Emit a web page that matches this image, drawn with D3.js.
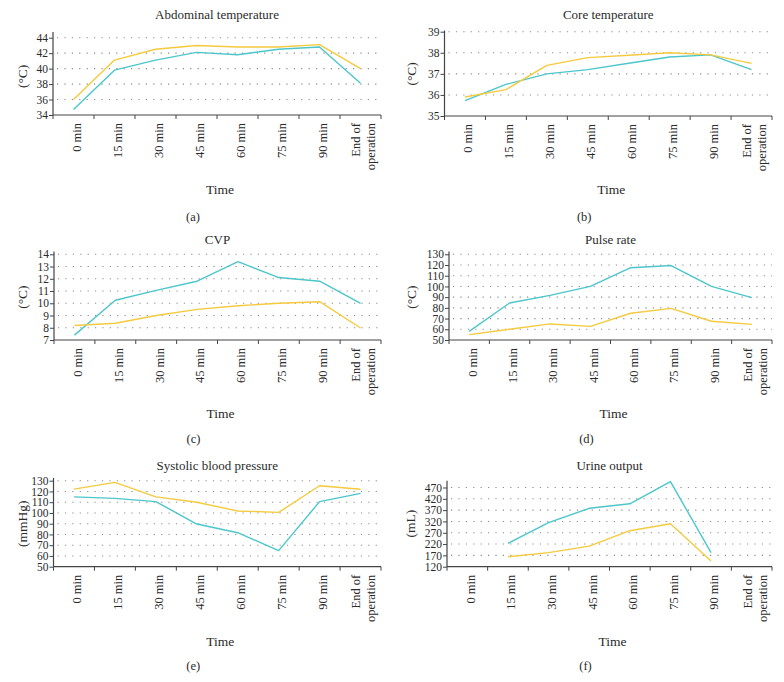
<!DOCTYPE html>
<html>
<head>
<meta charset="utf-8">
<script src="https://cdn.jsdelivr.net/npm/d3@7"></script>
<style>
  body { margin: 0; background: #fff; }
  svg { display: block; }
  text { font-family: "Liberation Serif", "DejaVu Serif", serif; fill: #2a2a2a; }
</style>
</head>
<body>
<svg id="chart" width="784" height="682"></svg>
<script>
// ---------- data ----------
const times = ["0 min", "15 min", "30 min", "45 min", "60 min", "75 min", "90 min", "End of operation"];

const abdominalCyan   = [34.7, 39.8, 41.1, 42.1, 41.8, 42.5, 42.8, 38.1];
const abdominalYellow = [36.0, 41.1, 42.5, 43.0, 42.8, 42.8, 43.1, 40.0];

const coreCyan   = [35.73, 36.5, 37.0, 37.2, 37.5, 37.8, 37.9, 37.2];
const coreYellow = [35.9, 36.25, 37.4, 37.77, 37.88, 38.0, 37.9, 37.5];

const cvpCyan   = [7.4, 10.25, 11.05, 11.8, 13.4, 12.1, 11.8, 10.0];
const cvpYellow = [8.18, 8.37, 9.0, 9.5, 9.8, 10.0, 10.13, 7.98];

const pulseCyan   = [58, 84.5, 91.6, 100, 117.5, 119.5, 100, 89.5];
const pulseYellow = [55, 60, 65, 62.7, 75, 79.5, 67.5, 64.6];

const sbpCyan   = [115, 113.6, 110.5, 89.7, 81.6, 65, 110.5, 118.2];
const sbpYellow = [122.2, 128.4, 115, 110, 101.8, 100.5, 125.3, 122];

const urineCyan   = [null, 223, 315, 378, 398, 496, 182, null];
const urineYellow = [null, 164, 182, 211, 279, 310, 145, null];

const abdominalTicks = [34, 36, 38, 40, 42, 44];
const coreTicks  = [35, 36, 37, 38, 39];
const cvpTicks   = [7, 8, 9, 10, 11, 12, 13, 14];
const pulseTicks = [50, 60, 70, 80, 90, 100, 110, 120, 130];
const sbpTicks   = [50, 60, 70, 80, 90, 100, 110, 120, 130];
const urineTicks = [120, 170, 220, 270, 320, 370, 420, 470];

const titles = ["Abdominal temperature", "Core temperature", "CVP", "Pulse rate", "Systolic blood pressure", "Urine output"];
const yTitles = ["(°C)", "(°C)", "(°C)", "(°C)", "(mmHg)", "(mL)"];
const captions = ["(a)", "(b)", "(c)", "(d)", "(e)", "(f)"];
const xTitle = "Time";

// ---------- layout ----------
const CYAN = "#4cc6cb";
const YELLOW = "#f5ca3e";

const panels = [
  { cyan: abdominalCyan, yellow: abdominalYellow, ticks: abdominalTicks, domain: [34, 44], x0: 53, x1: 381, bottom: 115, top: 37.7, axisTop: 32, titleY: 19, yTitleX: 22, timeY: 194, capY: 221 },
  { cyan: coreCyan, yellow: coreYellow, ticks: coreTicks, domain: [35, 39], x0: 444.5, x1: 772, bottom: 116, top: 31.7, axisTop: 30.5, titleY: 19, yTitleX: 411, timeY: 194, capY: 221 },
  { cyan: cvpCyan, yellow: cvpYellow, ticks: cvpTicks, domain: [7, 14], x0: 54, x1: 381, bottom: 340, top: 254.3, axisTop: 251.5, titleY: 244, yTitleX: 22, timeY: 418, capY: 443 },
  { cyan: pulseCyan, yellow: pulseYellow, ticks: pulseTicks, domain: [50, 130], x0: 449, x1: 772, bottom: 340, top: 254.3, axisTop: 251.5, titleY: 244, yTitleX: 411, timeY: 418, capY: 443 },
  { cyan: sbpCyan, yellow: sbpYellow, ticks: sbpTicks, domain: [50, 130], x0: 53.5, x1: 381, bottom: 566.7, top: 480.7, axisTop: 478, titleY: 470, yTitleX: 22, timeY: 646, capY: 670 },
  { cyan: urineCyan, yellow: urineYellow, ticks: urineTicks, domain: [120, 500], x0: 447, x1: 772, bottom: 566.7, top: 480.7, axisTop: 480.7, titleY: 470, yTitleX: 410, timeY: 646, capY: 670 }
];

const svg = d3.select("#chart");

panels.forEach((p, i) => {
  const g = svg.append("g");
  const x = d3.scaleBand().domain(times).range([p.x0, p.x1]).padding(0);
  const y = d3.scaleLinear().domain(p.domain).range([p.bottom, p.top]);
  const cx = (p.x0 + p.x1) / 2;

  // gridlines (dotted), skip bottom
  g.append("g").selectAll("line")
    .data(p.ticks.filter(t => t !== p.domain[0]))
    .join("line")
    .attr("x1", p.x0 + 4).attr("x2", p.x1)
    .attr("y1", d => y(d)).attr("y2", d => y(d))
    .attr("stroke", "#8a8a8a").attr("stroke-width", 1.1)
    .attr("stroke-dasharray", "1.2,6.2");

  // y axis
  const yAxis = g.append("g")
    .attr("transform", `translate(${p.x0},0)`)
    .call(d3.axisLeft(y).tickValues(p.ticks).tickSize(4).tickSizeOuter(0).tickFormat(d3.format("d")));
  yAxis.select(".domain").remove();
  yAxis.append("line").attr("x1", 0).attr("x2", 0).attr("y1", p.axisTop).attr("y2", p.bottom)
    .attr("stroke", "#444").attr("stroke-width", 1.2);
  yAxis.selectAll(".tick line").attr("stroke", "#444");
  yAxis.selectAll(".tick text").attr("x", -5).style("font-size", "11.5px")
    .style("font-family", "'Liberation Serif', serif").attr("fill", "#2a2a2a");

  // x axis
  const bounds = times.map(t => x(t)).concat([p.x1]);
  g.append("line").attr("x1", p.x0).attr("x2", p.x1).attr("y1", p.bottom).attr("y2", p.bottom)
    .attr("stroke", "#444").attr("stroke-width", 1.2);
  g.append("g").selectAll("line").data(bounds).join("line")
    .attr("x1", d => d).attr("x2", d => d)
    .attr("y1", p.bottom).attr("y2", p.bottom + 4)
    .attr("stroke", "#444").attr("stroke-width", 1);

  // x tick labels (rotated)
  times.forEach(t => {
    const lines = t === "End of operation" ? ["End of", "operation"] : [t];
    const bx = x(t) + x.bandwidth() / 2 + 3;
    lines.forEach((ln, k) => {
      const off = lines.length === 1 ? 0 : (k === 0 ? -7.5 : 7.5);
      g.append("text")
        .attr("transform", `translate(${bx + off},${p.bottom + 8}) rotate(-90)`)
        .attr("text-anchor", "end")
        .attr("dy", "0.35em")
        .style("font-size", "12.5px")
        .text(ln);
    });
  });

  // lines
  const lineGen = d3.line()
    .defined(d => d.v !== null)
    .x(d => x(d.t) + x.bandwidth() / 2)
    .y(d => y(d.v));
  [[p.cyan, CYAN], [p.yellow, YELLOW]].forEach(([vals, col]) => {
    g.append("path")
      .datum(times.map((t, k) => ({ t: t, v: vals[k] })))
      .attr("fill", "none").attr("stroke", col).attr("stroke-width", 1.4)
      .attr("stroke-linejoin", "round")
      .attr("d", lineGen);
  });

  // titles
  g.append("text").attr("x", cx).attr("y", p.titleY).attr("text-anchor", "middle")
    .style("font-size", "13px").text(titles[i]);
  g.append("text")
    .attr("transform", `translate(${p.yTitleX},${(p.top + p.bottom) / 2}) rotate(-90)`)
    .attr("text-anchor", "middle").attr("dy", "0.35em")
    .style("font-size", "13.5px").text(yTitles[i]);
  g.append("text").attr("x", cx + 3).attr("y", p.timeY).attr("text-anchor", "middle")
    .style("font-size", "13.5px").text(xTitle);
  g.append("text").attr("x", cx - 24).attr("y", p.capY).attr("text-anchor", "middle")
    .style("font-size", "12.5px").text(captions[i]);
});
</script>
</body>
</html>
